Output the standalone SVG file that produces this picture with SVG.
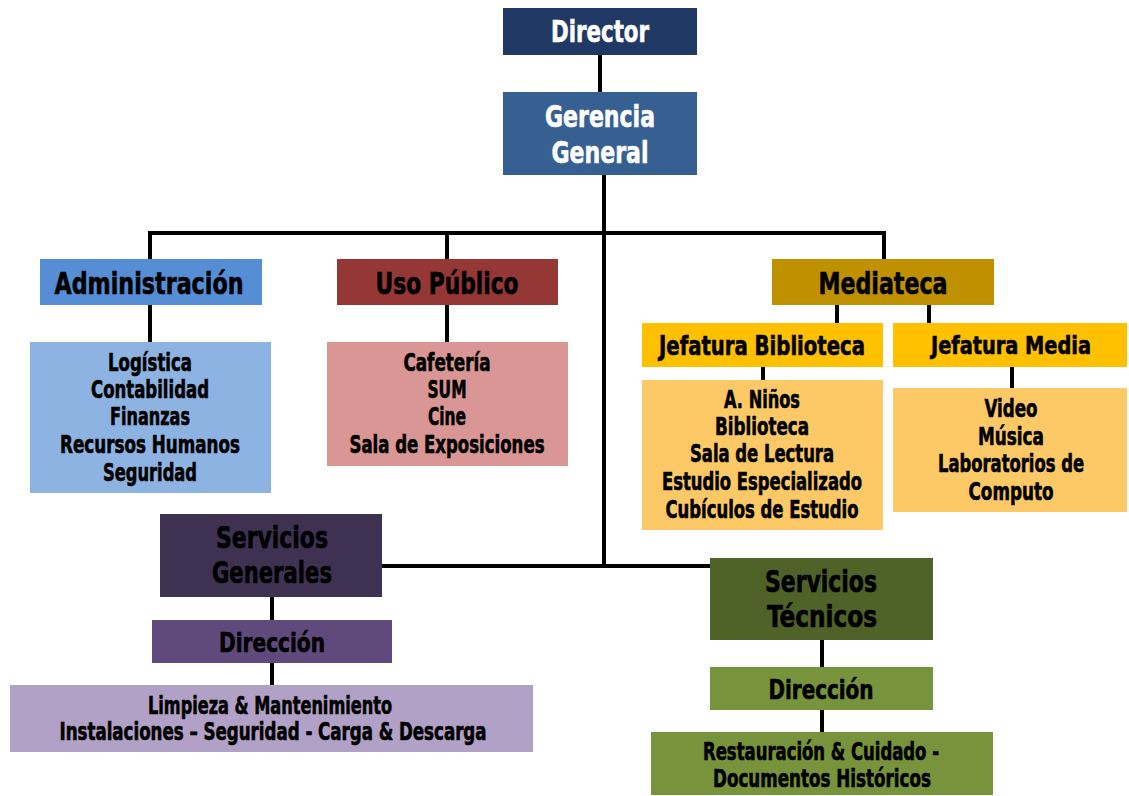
<svg xmlns="http://www.w3.org/2000/svg" width="1129" height="796" viewBox="0 0 1129 796">
<style>
text{font-family:"Liberation Sans Narrow","DejaVu Sans Condensed","Liberation Sans",sans-serif;font-weight:bold;text-anchor:middle;fill:#000;stroke:#000;stroke-width:0.6}
.w{fill:#fff;stroke:#fff}
.t{font-size:31px}
.d{font-size:27px}
.s{font-size:24px}
.c{stroke:#000;stroke-width:4;fill:none}
</style>
<rect width="1129" height="796" fill="#fff"/>
<g id="connectors">
<path class="c" d="M600 55V92"/>
<path class="c" d="M604 175V567"/>
<path class="c" d="M150 233H884M150 231V259M447 231V259M884 231V259"/>
<path class="c" d="M150 305V342M447 305V342"/>
<path class="c" d="M837 305V323M929 305V323M763 367V380M1012 367V388"/>
<path class="c" d="M382 566H710"/>
<path class="c" d="M272 597V620M272 663V685"/>
<path class="c" d="M822 640V667M822 710V732"/>
</g>
<g id="director"><rect x="503" y="8" width="194" height="47" fill="#1f3864"/><text class="t w" x="600" y="42" textLength="98" lengthAdjust="spacingAndGlyphs">Director</text></g>
<g id="gerencia"><rect x="503" y="92" width="194" height="83" fill="#366092"/><text class="t w" x="600" y="127" textLength="110" lengthAdjust="spacingAndGlyphs">Gerencia</text><text class="t w" x="600" y="163" textLength="97" lengthAdjust="spacingAndGlyphs">General</text></g>
<g id="administracion"><rect x="40" y="259" width="222" height="46" fill="#558ed5"/><text class="t" x="149" y="294" textLength="189" lengthAdjust="spacingAndGlyphs">Administración</text></g>
<g id="admin-list"><rect x="30" y="342" width="241" height="151" fill="#8db3e2"/>
<text class="s" x="150" y="371" textLength="84" lengthAdjust="spacingAndGlyphs">Logística</text>
<text class="s" x="150" y="398" textLength="118" lengthAdjust="spacingAndGlyphs">Contabilidad</text>
<text class="s" x="150" y="425" textLength="80" lengthAdjust="spacingAndGlyphs">Finanzas</text>
<text class="s" x="150" y="453" textLength="180" lengthAdjust="spacingAndGlyphs">Recursos Humanos</text>
<text class="s" x="150" y="481" textLength="94" lengthAdjust="spacingAndGlyphs">Seguridad</text></g>
<g id="uso-publico"><rect x="337" y="259" width="221" height="46" fill="#953735"/><text class="t" x="447" y="294" textLength="143" lengthAdjust="spacingAndGlyphs">Uso Público</text></g>
<g id="uso-list"><rect x="327" y="342" width="241" height="124" fill="#d99694"/>
<text class="s" x="447" y="371" textLength="87" lengthAdjust="spacingAndGlyphs">Cafetería</text>
<text class="s" x="447" y="398" textLength="39" lengthAdjust="spacingAndGlyphs">SUM</text>
<text class="s" x="447" y="425" textLength="38" lengthAdjust="spacingAndGlyphs">Cine</text>
<text class="s" x="447" y="453" textLength="195" lengthAdjust="spacingAndGlyphs">Sala de Exposiciones</text></g>
<g id="mediateca"><rect x="772" y="259" width="222" height="46" fill="#bf9000"/><text class="t" x="883" y="294" textLength="129" lengthAdjust="spacingAndGlyphs">Mediateca</text></g>
<g id="jefatura-biblioteca"><rect x="642" y="323" width="241" height="44" fill="#ffc000"/><text class="d" x="762" y="355" textLength="206" lengthAdjust="spacingAndGlyphs">Jefatura Biblioteca</text></g>
<g id="jefatura-media"><rect x="893" y="323" width="234" height="44" fill="#ffc000"/><text class="s" x="1011" y="354" textLength="160" lengthAdjust="spacingAndGlyphs" style="font-size:25px">Jefatura Media</text></g>
<g id="biblioteca-list"><rect x="642" y="380" width="241" height="150" fill="#fdc966"/>
<text class="s" x="762" y="408" textLength="76" lengthAdjust="spacingAndGlyphs">A. Niños</text>
<text class="s" x="762" y="435" textLength="94" lengthAdjust="spacingAndGlyphs">Biblioteca</text>
<text class="s" x="762" y="462" textLength="144" lengthAdjust="spacingAndGlyphs">Sala de Lectura</text>
<text class="s" x="762" y="490" textLength="200" lengthAdjust="spacingAndGlyphs">Estudio  Especializado</text>
<text class="s" x="762" y="518" textLength="193" lengthAdjust="spacingAndGlyphs">Cubículos  de Estudio</text></g>
<g id="media-list"><rect x="893" y="388" width="234" height="124" fill="#fdc966"/>
<text class="s" x="1011" y="417" textLength="53" lengthAdjust="spacingAndGlyphs">Video</text>
<text class="s" x="1011" y="445" textLength="66" lengthAdjust="spacingAndGlyphs">Música</text>
<text class="s" x="1011" y="472" textLength="146" lengthAdjust="spacingAndGlyphs">Laboratorios de</text>
<text class="s" x="1011" y="500" textLength="85" lengthAdjust="spacingAndGlyphs">Computo</text></g>
<g id="servicios-generales"><rect x="160" y="514" width="222" height="83" fill="#3f3151"/><text class="t" x="272" y="548" textLength="112" lengthAdjust="spacingAndGlyphs">Servicios</text><text class="t" x="272" y="583" textLength="120" lengthAdjust="spacingAndGlyphs">Generales</text></g>
<g id="direccion-sg"><rect x="152" y="620" width="240" height="43" fill="#604a7b"/><text class="d" x="272" y="652" textLength="106" lengthAdjust="spacingAndGlyphs">Dirección</text></g>
<g id="sg-list"><rect x="10" y="685" width="523" height="67" fill="#b2a1c7"/>
<text class="s" x="270" y="714" textLength="244" lengthAdjust="spacingAndGlyphs">Limpieza &amp; Mantenimiento</text>
<text class="s" x="273" y="740" textLength="427" lengthAdjust="spacingAndGlyphs">Instalaciones – Seguridad - Carga &amp; Descarga</text></g>
<g id="servicios-tecnicos"><rect x="710" y="558" width="223" height="82" fill="#4f6228"/><text class="t" x="821" y="592" textLength="112" lengthAdjust="spacingAndGlyphs">Servicios</text><text class="t" x="822" y="627" textLength="110" lengthAdjust="spacingAndGlyphs">Técnicos</text></g>
<g id="direccion-st"><rect x="710" y="667" width="223" height="43" fill="#77933c"/><text class="d" x="821" y="699" textLength="105" lengthAdjust="spacingAndGlyphs">Dirección</text></g>
<g id="st-list"><rect x="651" y="732" width="342" height="63" fill="#77933c"/>
<text class="s" x="821" y="760" textLength="236" lengthAdjust="spacingAndGlyphs">Restauración &amp; Cuidado -</text>
<text class="s" x="822" y="787" textLength="218" lengthAdjust="spacingAndGlyphs">Documentos Históricos</text></g>
</svg>
